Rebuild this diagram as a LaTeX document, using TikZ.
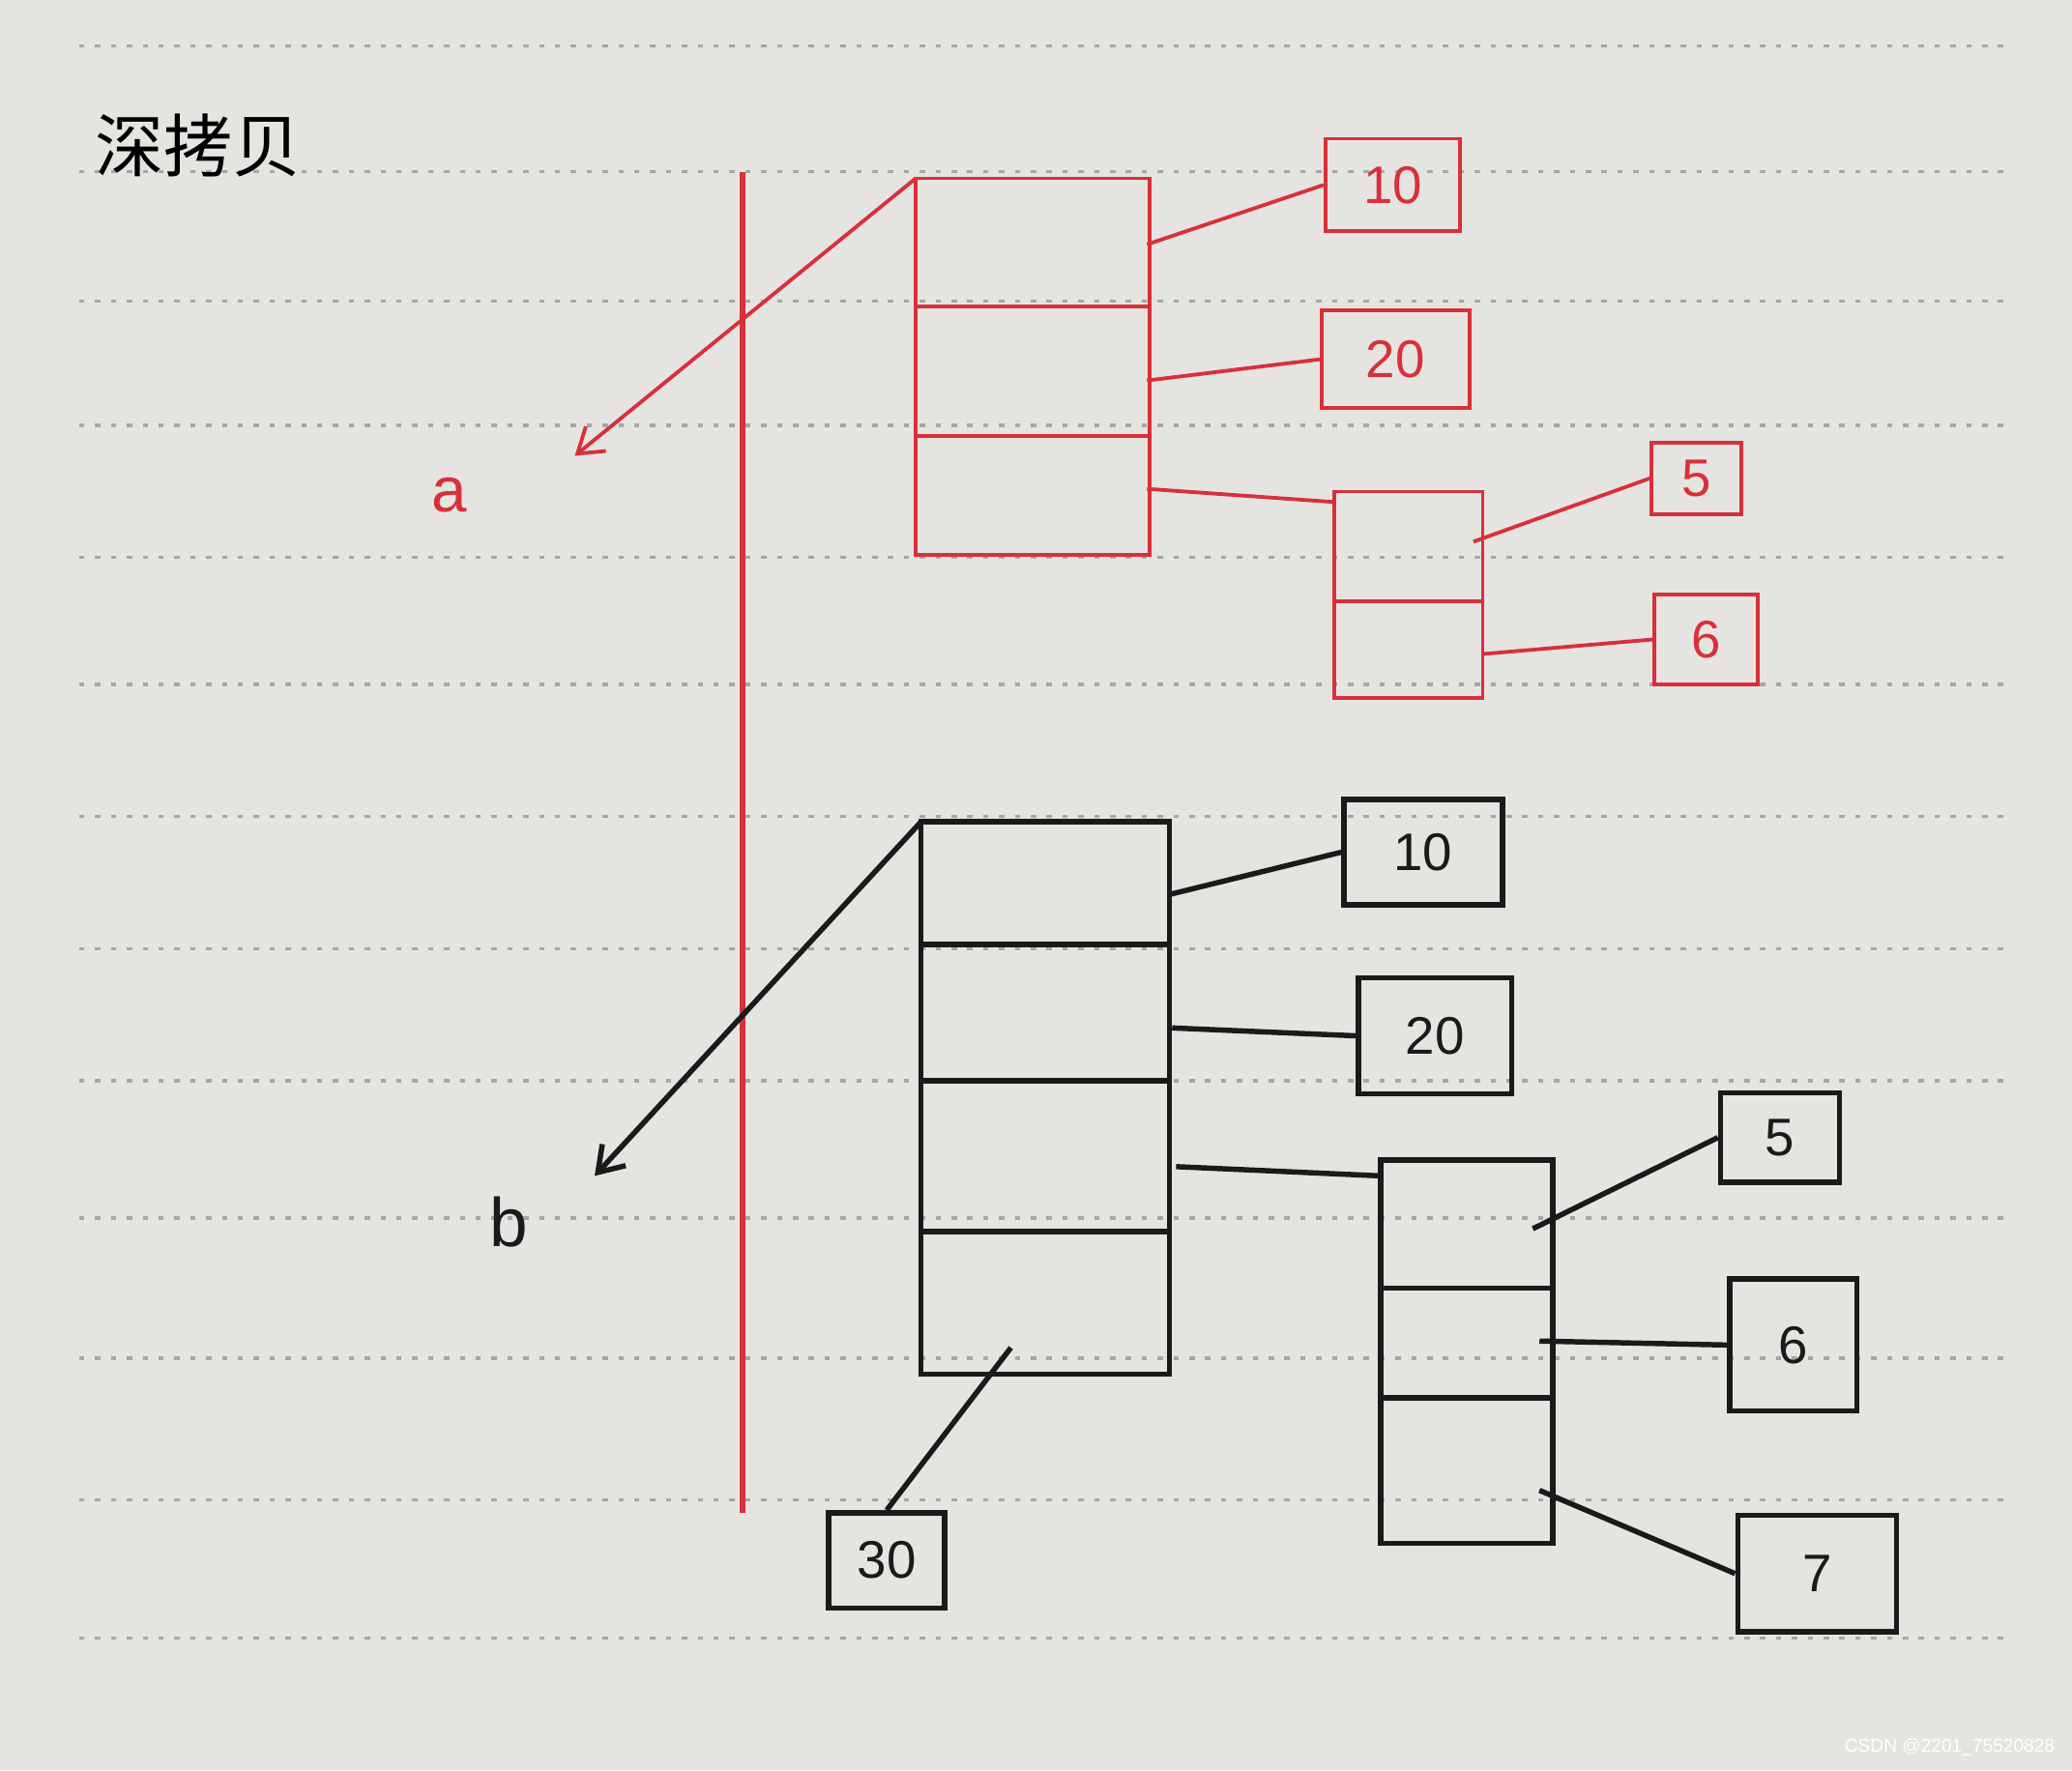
\documentclass[tikz,border=0pt]{standalone}
\usepackage{fontspec}
\setmainfont{Liberation Sans}
\newfontfamily\cjk{Noto Sans CJK SC}
\usetikzlibrary{arrows.meta}
\definecolor{paper}{HTML}{E6E4E1}
\definecolor{pen}{HTML}{D8303A}
\definecolor{ink}{HTML}{1A1A1A}
\begin{document}
\begin{tikzpicture}[x=0.5pt,y=-0.5pt,
  rule/.style={gray!70,line width=1.2pt,dash pattern=on 2pt off 4pt},
  stroke/.style={line width=1.4pt},
  vtip/.style={-{Straight Barb[length=9pt,width=12pt]}},
  cell/.style={draw,line width=1.4pt,inner sep=0pt,font=\fontsize{20}{20}\selectfont}]
\fill[paper] (0,0) rectangle (1568,1340);
\useasboundingbox (0,0) rectangle (1568,1340);
\foreach \y in {35,130,228,322,422,518,618,718,818,922,1028,1135,1240}
  \draw[rule] (60,\y) -- (1520,\y);
\node[font=\cjk\fontsize{26}{26}\selectfont] (title) at (150,110) {深拷贝};
\node[font=\fontsize{7}{7}\selectfont,white,anchor=south east] (wm) at (1562,1336) {CSDN @2201\_75520828};
% red divider
\draw[pen,line width=2pt] (562,130) -- (562,1145);
% ---- red ----
\begin{scope}[pen,stroke]
\draw (693,135) rectangle (870,420) (693,232) -- (870,232) (693,330) -- (870,330);
\coordinate (ra) at (693,135);
\node[pen,font=\fontsize{24}{24}\selectfont] (la) at (340,375) {a};
\coordinate (rat) at (435,345);
\draw[vtip] (ra) -- (rat);
\node[cell,minimum width=51pt,minimum height=35pt] (r10) at (1054,140) {10};
\node[cell,minimum width=56pt,minimum height=37pt] (r20) at (1056,272) {20};
\draw (1010,372) rectangle (1122,528) (1010,455) -- (1122,455);
\coordinate (rm) at (1010,380);
\node[cell,minimum width=34pt,minimum height=27pt] (r5) at (1284,362) {5};
\node[cell,minimum width=39pt,minimum height=34pt] (r6) at (1291,484) {6};
\draw (868,185) -- (r10.west);
\draw (868,288) -- (r20.west);
\draw (868,370) -- (rm);
\draw (1115,410) -- (r5.west);
\draw (1122,495) -- (r6.west);
\end{scope}
% ---- black ----
\begin{scope}[ink,stroke]
\draw[line width=2pt] (697,622) rectangle (885,1040) (697,715) -- (885,715) (697,818) -- (885,818) (697,932) -- (885,932);
\coordinate (ba) at (697,622);
\node[font=\fontsize{26}{26}\selectfont] (lb) at (385,925) {b};
\coordinate (bat) at (450,890);
\draw[vtip,line width=2pt] (ba) -- (bat);
\node[cell,line width=2pt,minimum width=60pt,minimum height=40pt] (b10) at (1077,645) {10};
\node[cell,line width=2pt,minimum width=58pt,minimum height=44pt] (b20) at (1086,784) {20};
\draw[line width=2pt] (1045,878) rectangle (1175,1168) (1045,975) -- (1175,975) (1045,1058) -- (1175,1058);
\coordinate (bm) at (1045,890);
\node[cell,line width=2pt,minimum width=45pt,minimum height=34pt] (b5) at (1347,861) {5};
\node[cell,line width=2pt,minimum width=48pt,minimum height=50pt] (b6) at (1357,1018) {6};
\node[cell,line width=2pt,minimum width=60pt,minimum height=44pt] (b7) at (1375,1191) {7};
\node[cell,line width=2pt,minimum width=44pt,minimum height=36pt] (b30) at (671,1181) {30};
\draw[line width=2pt] (885,677) -- (b10.west);
\draw[line width=2pt] (887,778) -- (b20.west);
\draw[line width=2pt] (890,883) -- (bm);
\draw[line width=2pt] (1160,930) -- (b5.west);
\draw[line width=2pt] (1165,1015) -- (b6.west);
\draw[line width=2pt] (1165,1128) -- (b7.west);
\draw[line width=2pt] (765,1020) -- (b30.north);
\end{scope}
\end{tikzpicture}
\end{document}
